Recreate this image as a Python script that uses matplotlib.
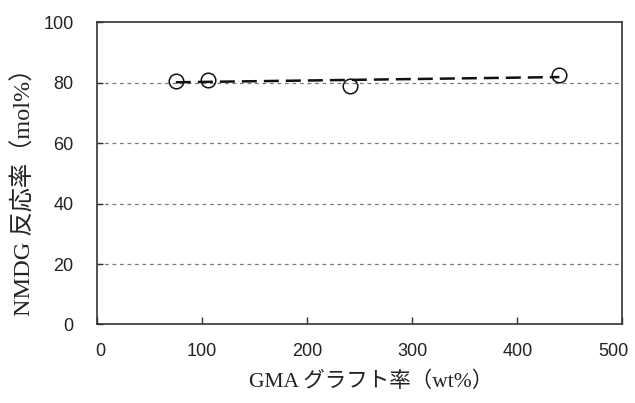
import numpy as np
import matplotlib
matplotlib.use("Agg")
import matplotlib.pyplot as plt
import matplotlib.transforms as mtransforms

# Data
graft_rate = [75.4, 105.9, 240.8, 440.0]      # GMA graft rate (wt%)
reaction_rate = [80.55, 81.0, 79.0, 82.7]     # NMDG reaction rate (mol%)
x_ticks = [0, 100, 200, 300, 400, 500]
y_ticks = [0, 20, 40, 60, 80, 100]
x_label = "GMA グラフト率（wt%）"
y_label = "NMDG 反応率（mol%）"

fig = plt.figure(figsize=(6.35, 4.03), dpi=100)
ax = fig.add_axes([0.152, 0.1948, 0.9803 - 0.152, 0.9447 - 0.1948])

ax.set_xlim(0, 500)
ax.set_ylim(0, 100)

# grid lines
for yv in y_ticks[1:-1]:
    ax.axhline(yv, color="#7a7a7a", lw=0.9, ls=(0, (3, 3)), zorder=1)

# linear trend line
coef = np.polyfit(graft_rate, reaction_rate, 1)
xs = np.array([min(graft_rate), max(graft_rate)])
ax.plot(xs, np.polyval(coef, xs), color="#111111", lw=1.8,
        ls=(0, (6, 2.8)), zorder=2)

ax.plot(graft_rate, reaction_rate, ls="none", marker="o", ms=10.5,
        mfc="none", mec="#111111", mew=1.1, zorder=3)

tick_font = dict(family="Liberation Sans", size=13)
ax.set_xticks(x_ticks)
ax.set_yticks(y_ticks)
ax.set_xticklabels([str(v) for v in x_ticks], fontdict=tick_font, color="#222222")
ax.set_yticklabels([str(v) for v in y_ticks], fontdict=tick_font, color="#222222")
ax.tick_params(axis="x", direction="in", length=5, width=1, pad=13, color="#333333")
ax.tick_params(axis="y", direction="in", length=4, width=1, pad=16.5, color="#333333")

# nudge first / last x labels like the reference
labs = ax.get_xticklabels()
labs[0].set_transform(labs[0].get_transform() +
                      mtransforms.ScaledTranslation(4/100, 0, fig.dpi_scale_trans))
labs[-1].set_transform(labs[-1].get_transform() +
                       mtransforms.ScaledTranslation(-9/100, 0, fig.dpi_scale_trans))

for s in ax.spines.values():
    s.set_color("#333333")
    s.set_linewidth(1.2)

label_family = ["Liberation Serif", "Noto Sans CJK JP"]
fig.text(371/635, 1 - 382/403, x_label, ha="center", va="center",
         fontsize=15.5, family=label_family, color="#222222")
fig.text(24/635, 1 - 186/403, y_label, ha="center", va="center",
         rotation=90, fontsize=17.5, family=label_family, color="#222222")

fig.savefig("out.png", dpi=100)
